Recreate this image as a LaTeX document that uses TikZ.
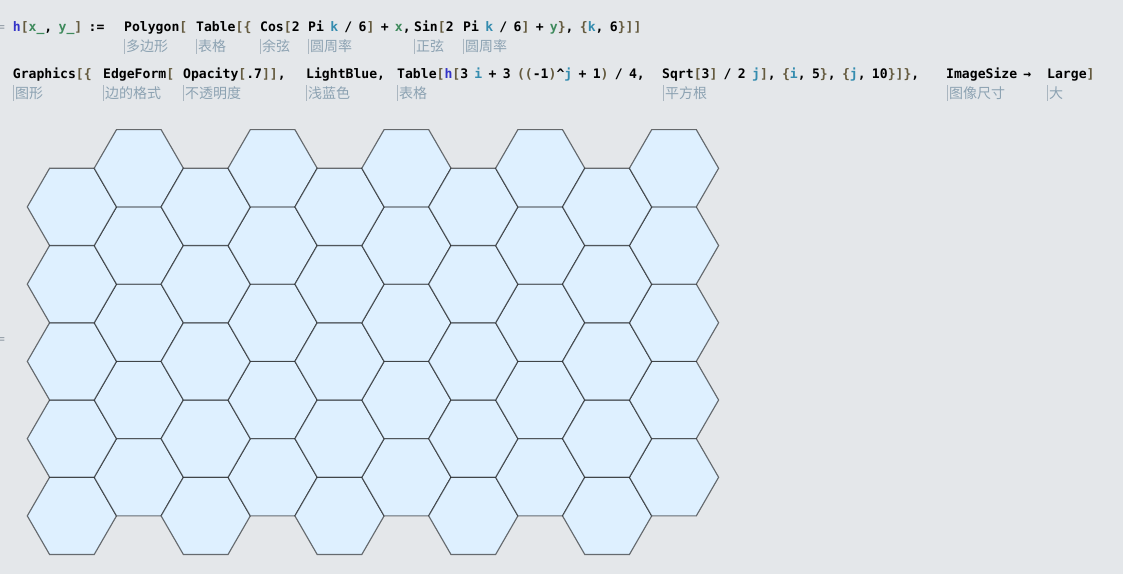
\documentclass[tikz,border=0pt]{standalone}
\usepackage{fontspec}
\newfontfamily\codefont[WordSpace=0.8]{DejaVu Sans Mono}
\newfontfamily\cjk{Noto Sans CJK SC}
\definecolor{nbback}{RGB}{228,231,234}
\definecolor{hexfill}{RGB}{222,240,255}
\definecolor{fnblue}{RGB}{52,52,200}
\definecolor{patgreen}{RGB}{62,138,92}
\definecolor{itervar}{RGB}{52,140,175}
\definecolor{brack}{RGB}{100,90,62}
\definecolor{notecol}{RGB}{140,162,178}
\definecolor{notebar}{RGB}{170,182,192}
\definecolor{cellmark}{RGB}{150,160,170}
\newcommand{\fn}[1]{\textcolor{fnblue}{#1}}
\newcommand{\pat}[1]{\textcolor{patgreen}{#1}}
\newcommand{\iv}[1]{\textcolor{itervar}{#1}}
\newcommand{\br}[1]{\textcolor{brack}{#1}}
\begin{document}
\begin{tikzpicture}[x=1pt,y=-1pt,
    code/.style={anchor=base west,inner sep=0pt,font=\codefont\bfseries\fontsize{13.1}{15}\selectfont},
    note/.style={anchor=base west,inner sep=0pt,text=notecol,font=\cjk\fontsize{14}{16}\selectfont},
    notebar/.style={draw=notebar,line width=0.6pt},
    hexcell/.style={fill=hexfill,draw=black,draw opacity=0.55,line width=1.15pt}]
    \fill[nbback] (0,0) rectangle (1123,574);
    \useasboundingbox (0,0) rectangle (1123,574);
    %% first input line
    \node[code,text=cellmark,font=\codefont\fontsize{13.1}{15}\selectfont] (inmark) at (-3,31.5) {=};
    \node[code] (hdef) at (12.7,31.5) {\fn{h}\br{[}\pat{x\_}, \pat{y\_}\br{]} :=};
    \node[code] (polygon) at (124,31.5) {Polygon\br{[}};
    \node[code] (table1) at (196,31.5) {Table\br{[\{}};
    \node[code] (cos) at (260,31.5) {Cos\br{[}2};
    \node[code] (pi1) at (308,31.5) {Pi \iv{k} / 6\br{]} + \pat{x},};
    \node[code] (sin) at (414,31.5) {Sin\br{[}2};
    \node[code] (pi2) at (463,31.5) {Pi \iv{k} / 6\br{]} + \pat{y}\br{\}}, \br{\{}\iv{k}, 6\br{\}]]}};
    %% second input line
    \node[code] (graphics) at (12.7,78) {Graphics\br{[\{}};
    \node[code] (edgeform) at (103,78) {EdgeForm\br{[}};
    \node[code] (opacity) at (183,78) {Opacity\br{[}.7\br{]]},};
    \node[code] (lightblue) at (306,78) {LightBlue,};
    \node[code] (table2) at (397,78) {Table\br{[}\fn{h}\br{[}3 \iv{i} + 3 \br{((}-1\br{)}\textasciicircum\iv{j} + 1\br{)} / 4,};
    \node[code] (sqrt) at (662,78) {Sqrt\br{[}3\br{]} / 2 \iv{j}\br{]}, \br{\{}\iv{i}, 5\br{\}}, \br{\{}\iv{j}, 10\br{\}]\}},};
    \node[code] (imagesize) at (946,78) {ImageSize →};
    \node[code] (large) at (1047,78) {Large\br{]}};
    %% notes under the code
    \foreach \nx/\ny/\nt [count=\n] in {124/51.5/多边形, 196/51.5/表格, 260/51.5/余弦, 308/51.5/圆周率,
        414/51.5/正弦, 463/51.5/圆周率, 13/98/图形, 103/98/边的格式, 183/98/不透明度,
        306/98/浅蓝色, 397/98/表格, 663/98/平方根, 947/98/图像尺寸, 1047/98/大}{
        \draw[notebar] (\nx,\ny-13) -- (\nx,\ny+2.5);
        \node[note] (note\n) at (\nx+2,\ny) {\nt};
    }
    %% output
    \node[code,text=cellmark,font=\codefont\fontsize{13.1}{15}\selectfont] (outmark) at (-3,343) {=};
    \begin{scope}[shift={(-61.9,554.5)},x=44.6pt,y=44.6pt]
        \foreach \i in {1,...,5}
            \foreach \j in {1,...,10}{
                \pgfmathsetmacro{\hx}{3*\i+1.5*(1-mod(\j,2))}
                \pgfmathsetmacro{\hy}{sqrt(3)/2*\j}
                \draw[hexcell] (\hx+1,\hy) -- ++(120:1) -- ++(180:1) -- ++(240:1) -- ++(300:1) -- ++(0:1) -- cycle;
            }
    \end{scope}
\end{tikzpicture}
\end{document}
